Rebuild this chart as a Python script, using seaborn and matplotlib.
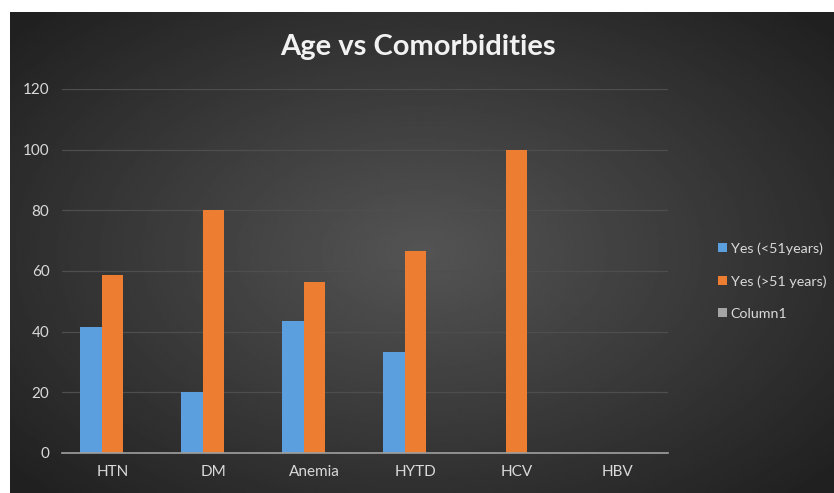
import numpy as np
import pandas as pd
import matplotlib

matplotlib.use("Agg")
import matplotlib.pyplot as plt
import seaborn as sns

categories = ["HTN", "DM", "Anemia", "HYTD", "HCV", "HBV"]
series_names = ["Yes (<51years)", "Yes (>51 years)", "Column1"]
young = [41.4, 20.0, 43.5, 33.3, 0.0, 0.0]
old = [58.6, 80.0, 56.5, 66.7, 100.0, 0.0]
column1 = [0, 0, 0, 0, 0, 0]
y_ticks = [0, 20, 40, 60, 80, 100, 120]

df = pd.DataFrame({
    "Condition": categories * 3,
    "Series": [series_names[0]] * 6 + [series_names[1]] * 6 + [series_names[2]] * 6,
    "Percent": young + old + column1,
})

sns.set_theme(style="dark")
plt.rcParams["font.family"] = ["Lato", "DejaVu Sans"]

fig = plt.figure(figsize=(8.34, 4.93), dpi=100, facecolor="white")

# dark radial background like the Excel chart style
bg = fig.add_axes([10 / 834, 0, 824 / 834, 481 / 493])
bg.set_axis_off()
yy, xx = np.mgrid[-1:1:240j, -1:1:400j]
r = np.sqrt((xx * 0.95) ** 2 + (yy * 0.9) ** 2)
shade = np.clip(0.33 - 0.16 * r, 0.13, 0.35)
bg.imshow(shade, cmap="gray", vmin=0, vmax=1, aspect="auto", interpolation="bilinear")

ax = fig.add_axes([62 / 834, 40 / 493, 606 / 834, 364 / 493])
ax.set_facecolor("none")
sns.barplot(
    data=df, x="Condition", y="Percent", hue="Series",
    palette=["#5b9fdf", "#ed7d31", "#a5a5a5"],
    width=0.65, saturation=1, linewidth=0, ax=ax, legend=True,
)

ax.set_ylim(0, 120)
ax.set_yticks(y_ticks)
ax.set_xlabel("")
ax.set_ylabel("")
ax.yaxis.grid(True, color="#4e4e4e", linewidth=0.9)
ax.xaxis.grid(False)
ax.set_axisbelow(True)
for side in ["top", "right", "left"]:
    ax.spines[side].set_visible(False)
ax.spines["bottom"].set_color("#a0a0a0")
ax.spines["bottom"].set_linewidth(1.2)
ax.tick_params(axis="both", length=0, colors="#d9d9d9", labelsize=11)
ax.tick_params(axis="y", pad=9)
ax.tick_params(axis="x", pad=9)

handles, labels = ax.get_legend_handles_labels()
for h in handles:
    h.set_edgecolor("none")
ax.get_legend().remove()
fig.legend(
    handles, labels, loc="center left", bbox_to_anchor=(0.846, 0.43),
    frameon=False, fontsize=10.3, labelcolor="#d9d9d9",
    handlelength=0.6, handleheight=0.6, handletextpad=0.25, labelspacing=1.4,
)

fig.text(0.501, 0.905, "Age vs Comorbidities", ha="center", va="center",
         fontsize=21, fontweight="bold", color="#f2f2f2")

fig.savefig("out.png", dpi=100, facecolor="white")
